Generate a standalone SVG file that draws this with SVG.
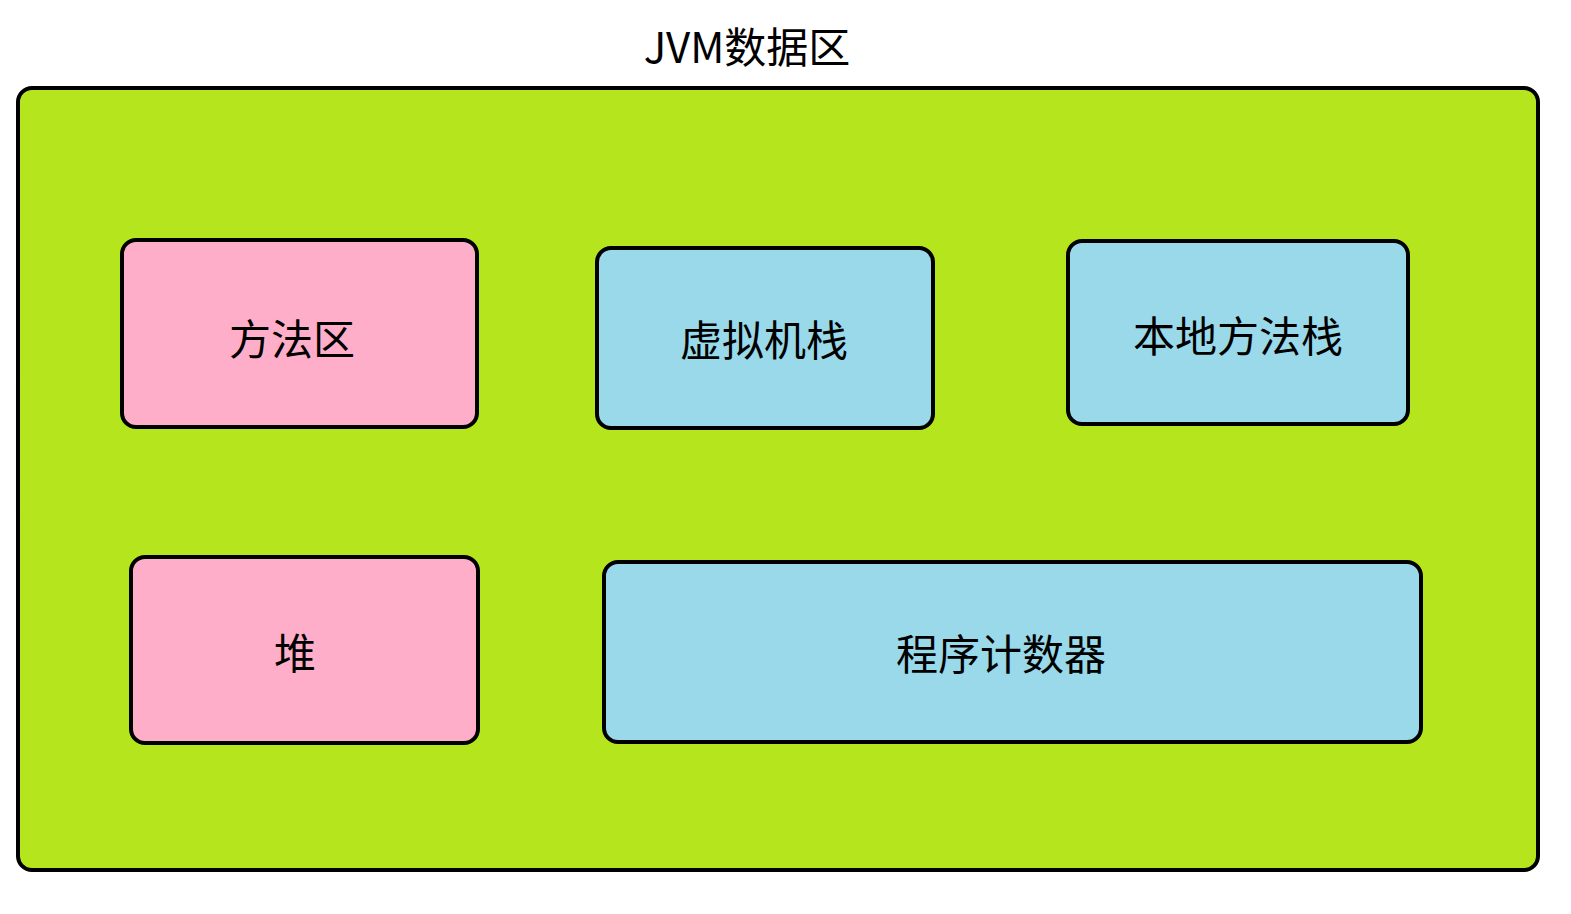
<svg xmlns="http://www.w3.org/2000/svg" width="1571" height="914" viewBox="0 0 1571 914">
<style>
.b{stroke:#000;stroke-width:4}
.p{fill:#ffaec9}.c{fill:#99d9ea}
text{font-family:"Noto Sans CJK SC","Noto Sans",sans-serif;font-size:42px;text-anchor:middle;dominant-baseline:central;fill:#000}
</style>
<rect width="1571" height="914" fill="#fff"/>
<text x="747" y="44">JVM数据区</text>
<g id="outer"><rect class="b" x="18" y="88" width="1520" height="782" rx="14" fill="#b5e61d"/></g>
<g id="n1"><rect class="b p" x="122" y="240" width="355" height="187" rx="14"/><text x="292" y="336">方法区</text></g>
<g id="n2"><rect class="b c" x="597" y="248" width="336" height="180" rx="14"/><text x="764" y="337">虚拟机栈</text></g>
<g id="n3"><rect class="b c" x="1068" y="241" width="340" height="183" rx="14"/><text x="1238" y="333">本地方法栈</text></g>
<g id="n4"><rect class="b p" x="131" y="557" width="347" height="186" rx="14"/><text x="295" y="650">堆</text></g>
<g id="n5"><rect class="b c" x="604" y="562" width="817" height="180" rx="14"/><text x="1001" y="651">程序计数器</text></g>
<g id="connectors"/>
</svg>
